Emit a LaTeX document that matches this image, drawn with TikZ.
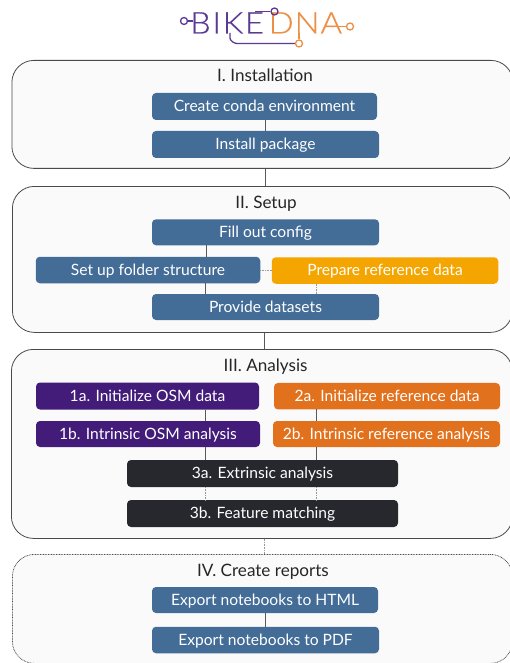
\documentclass[tikz,border=0pt]{standalone}
\usepackage{fontspec}
\setmainfont{Lato}
\newfontfamily\logofont[LetterSpace=6,FakeStretch=1.08,FakeBold=0.5]{Lato Light}
\newfontfamily\logofontb[LetterSpace=3,FakeStretch=1.1,FakeBold=0.5]{Lato Light}
\definecolor{stepblue}{HTML}{436C97}
\definecolor{stepgold}{HTML}{F4A500}
\definecolor{steppurple}{HTML}{431C7A}
\definecolor{steporange}{HTML}{E2711D}
\definecolor{stepdark}{HTML}{26282E}
\definecolor{panelfill}{HTML}{FAFAFA}
\definecolor{panelline}{HTML}{4A4A4A}
\definecolor{logopurple}{HTML}{5B3A94}
\definecolor{logoorange}{HTML}{EE8F45}
\tikzset{
  panelbox/.style={draw=panelline,fill=panelfill,line width=0.8pt,rounded corners=22pt},
  paneldot/.style={panelbox,dash pattern=on 0.8pt off 0.8pt},
  paneltitle/.style={font=\fontsize{17.1}{19}\selectfont,text=black!85,inner sep=0pt,text height=12.5pt,text depth=1.5pt},
  stepbox/.style={rounded corners=4pt,inner sep=0pt,outer sep=0pt,text=white,font=\fontsize{15.6}{18}\selectfont,anchor=center,text height=11.5pt,text depth=1.5pt},
  link/.style={draw=black!65,line width=0.7pt},
  linkdot/.style={draw=black!40,line width=0.8pt,dash pattern=on 0.8pt off 0.8pt},
  logopline/.style={draw=logopurple,line width=1.3pt},
  logooline/.style={draw=logoorange,line width=1.3pt},
}
\begin{document}
\begin{tikzpicture}[x=1pt,y=-1pt]
\useasboundingbox (0,0) rectangle (510,663);
\fill[white] (0,0) rectangle (510,663);
% column coordinates
\coordinate (cmid) at (265,0);
\coordinate (cmidb) at (264,0);
\coordinate (cleft) at (205,0);
\coordinate (cleftb) at (206,0);
\coordinate (cright) at (316,0);
% panels (right edge runs off the page)
\node[panelbox,minimum width=501pt,minimum height=108pt,inner sep=0pt,anchor=north west] (pone) at (11.5,60) {};
\node[panelbox,minimum width=500pt,minimum height=146pt,inner sep=0pt,anchor=north west] (ptwo) at (12,186) {};
\node[panelbox,minimum width=501pt,minimum height=189pt,inner sep=0pt,anchor=north west] (pthree) at (11,349) {};
\node[paneldot,minimum width=500pt,minimum height=109pt,inner sep=0pt,anchor=north west] (pfour) at (12,554) {};
\path[clip] (0,0) rectangle (510,663);
% connectors between panels
\draw[link] (pone.south -| cmid) -- (ptwo.north -| cmid);
\draw[link] (ptwo.south -| cmidb) -- (pthree.north -| cmidb);
\draw[linkdot] (pthree.south -| cmidb) -- (pfour.north -| cmidb);
% titles
\node[paneltitle] (tone) at (265,76.5) {I. Installation};
\node[paneltitle] (ttwo) at (266,202.5) {II. Setup};
\node[paneltitle] (tthree) at (265.5,365.5) {III. Analysis};
\node[paneltitle] (tfour) at (263,570.5) {IV. Create reports};
% steps
\node[stepbox,fill=stepblue,minimum width=225pt,minimum height=27pt] (conda) at (264.5,106.5) {Create conda environment};
\node[stepbox,fill=stepblue,minimum width=227pt,minimum height=27pt] (install) at (265.5,144.5) {Install package};
\node[stepbox,fill=stepblue,minimum width=227pt,minimum height=26pt] (config) at (265.5,232.3) {Fill out config};
\node[stepbox,fill=stepblue,minimum width=224.5pt,minimum height=26.5pt] (folder) at (148,270) {Set up folder structure};
\node[stepbox,fill=stepgold,minimum width=226.5pt,minimum height=26.5pt] (prep) at (385,270.5) {Prepare reference data};
\node[stepbox,fill=stepblue,minimum width=227pt,minimum height=26pt] (provide) at (265.5,307) {Provide datasets};
\node[stepbox,fill=steppurple,minimum width=223pt,minimum height=27pt] (ia) at (147.5,396) {1a. Initialize OSM data};
\node[stepbox,fill=steporange,minimum width=226pt,minimum height=26.5pt] (iia) at (387,396.2) {2a. Initialize reference data};
\node[stepbox,fill=steppurple,minimum width=224pt,minimum height=26pt] (ib) at (148,434) {1b. Intrinsic OSM analysis};
\node[stepbox,fill=steporange,minimum width=227pt,minimum height=26pt] (iib) at (386.5,434) {2b. Intrinsic reference analysis};
\node[stepbox,fill=stepdark,minimum width=271pt,minimum height=27pt] (iiia) at (262.5,473.5) {3a. Extrinsic analysis};
\node[stepbox,fill=stepdark,minimum width=271pt,minimum height=27pt] (iiib) at (262.5,513.5) {3b. Feature matching};
\node[stepbox,fill=stepblue,minimum width=226pt,minimum height=26pt] (html) at (265,600) {Export notebooks to HTML};
\node[stepbox,fill=stepblue,minimum width=227pt,minimum height=26.5pt] (pdf) at (265.5,640) {Export notebooks to PDF};
% connectors inside panels
\draw[link] (conda.south -| cmid) -- (install.north -| cmid);
\draw[link] (config.south -| cleftb) -- (folder.north -| cleftb);
\draw[link] (folder.south -| cleft) -- (provide.north -| cleft);
\draw[linkdot] (folder.east) -- (prep.west |- folder.east);
\draw[linkdot] (prep.south -| cright) -- (provide.north -| cright);
\draw[link] (ia.south -| cleft) -- (ib.north -| cleft);
\draw[link] (iia.south -| cright) -- (iib.north -| cright);
\draw[link] (ib.south -| cleft) -- (iiia.north -| cleft);
\draw[link] (iib.south -| cright) -- (iiia.north -| cright);
\draw[linkdot] (iiia.south -| cleft) -- (iiib.north -| cleft);
\draw[linkdot] (iiia.south -| cright) -- (iiib.north -| cright);
\draw[link] (html.south -| cmid) -- (pdf.north -| cmid);
% logo
\node[inner sep=0pt,anchor=base west,text=logopurple,font=\logofont\fontsize{30}{32}\selectfont] (bike) at (190,33.5) {BIKE};
\node[inner sep=0pt,anchor=base west,text=logoorange,font=\logofontb\fontsize{30}{32}\selectfont] (dna) at (268.5,33.5) {DNA};
\coordinate (lk) at (230,33);
\node[circle,draw=logopurple,line width=1.3pt,inner sep=0pt,minimum size=7pt] (cb) at (184,21) {};
\node[circle,draw=logopurple,line width=1.3pt,inner sep=0pt,minimum size=7pt] (ct) at (274.5,11.5) {};
\node[circle,draw=logoorange,line width=1.3pt,inner sep=0pt,minimum size=7pt] (cbot) at (299,43.5) {};
\node[circle,draw=logoorange,line width=1.3pt,inner sep=0pt,minimum size=7pt] (cr) at (350,26.5) {};
\draw[logopline] (cb.east) -- (193,21);
\draw[logopline] (ct.west) -- (255,11.5);
\draw[logopline] (lk) -- (230,38) to[out=-90,in=180,looseness=0.8] (237,43.5) -- (cbot.west);
\draw[logooline] (cbot.north) -- (299,33);
\draw[logooline] (cr.west) -- (335,26.5);
\end{tikzpicture}
\end{document}
